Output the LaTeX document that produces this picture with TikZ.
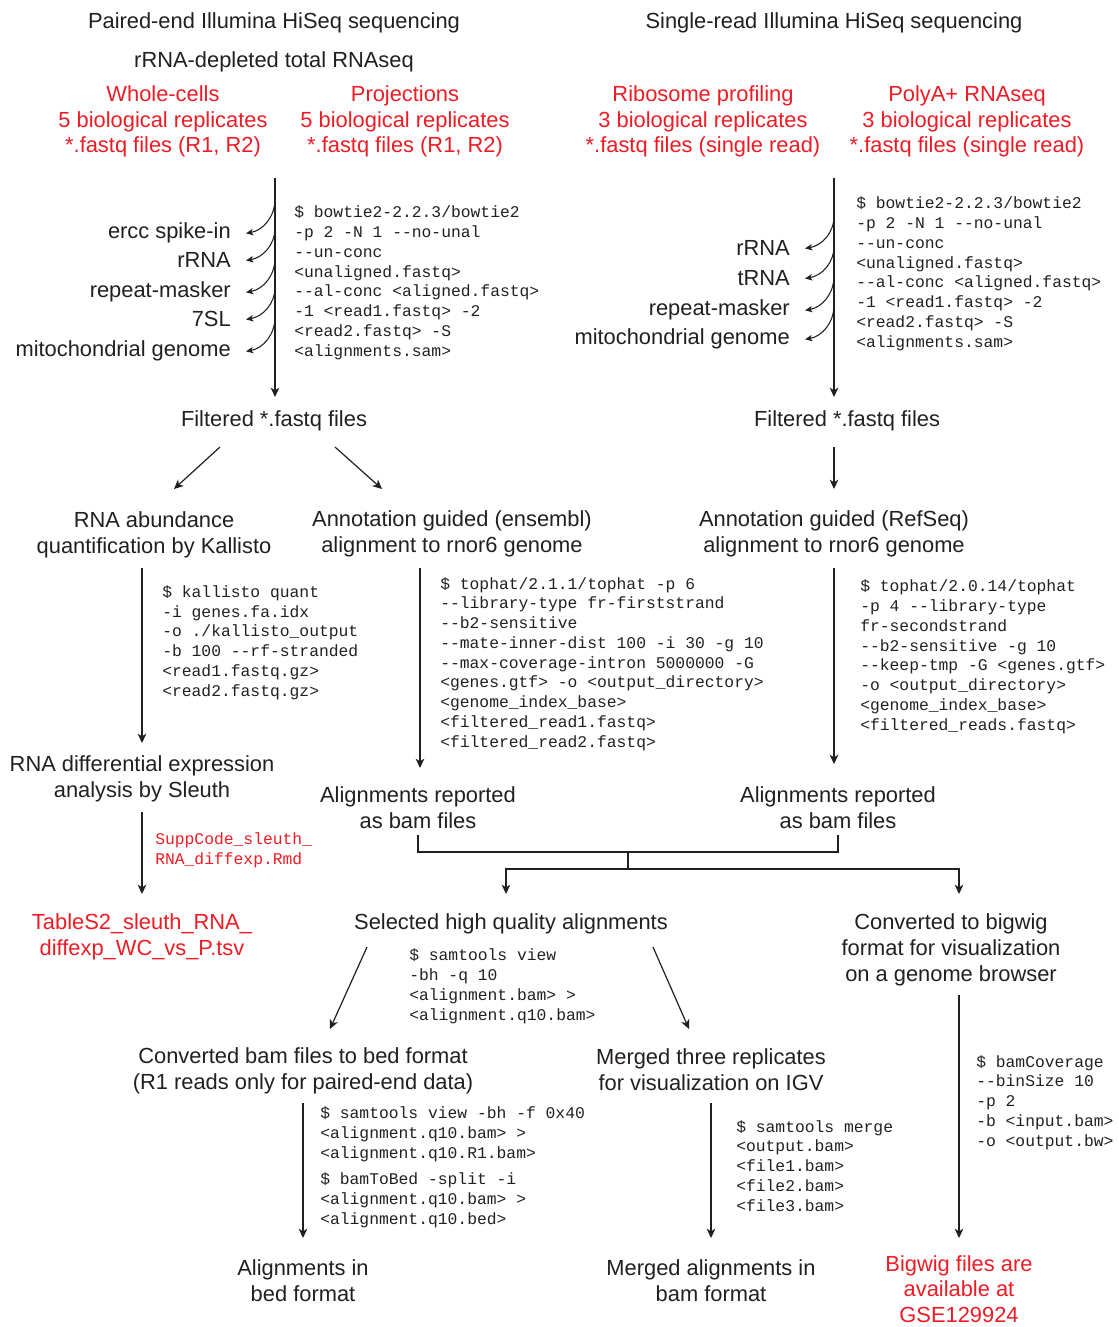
\documentclass[tikz,border=0pt]{standalone}
\usepackage{fontspec}
\setmainfont{Liberation Sans}
\setmonofont{Liberation Mono}
\usetikzlibrary{arrows.meta,calc}
\definecolor{ink}{RGB}{35,31,32}
\definecolor{redt}{RGB}{237,28,36}
\tikzset{
  txt/.style={font=\fontsize{16.4}{19.5}\selectfont, text=ink, inner sep=0pt, align=center, anchor=base},
  redtxt/.style={txt, text=redt},
  lbl/.style={font=\fontsize{16.4}{19.5}\selectfont, text=ink, inner sep=0pt, anchor=base east},
  code/.style={font=\fontsize{12.25}{14.8}\ttfamily, text=ink, inner sep=0pt, align=left, anchor=base west},
  redcode/.style={code, text=redt},
  arr/.style={draw=ink, line width=0.9pt, -{Stealth[length=7pt,width=6.5pt,inset=2pt]}},
  carr/.style={draw=ink, line width=0.8pt, -{Stealth[length=5.5pt,width=4.8pt,inset=1.5pt]}},
  ln/.style={draw=ink, line width=0.9pt},
}
\begin{document}
\begin{tikzpicture}[x=0.75pt,y=-0.75pt]
\useasboundingbox (0,0) rectangle (1118,1327);
% (multi-line nodes are placed by the baseline of their last line)
\begin{scope}[yshift=-1.5pt]
% ---------- headers
\node[txt] (hdrL) at (274,27) {Paired-end Illumina HiSeq sequencing};
\node[txt] (totL) at (274,66) {rRNA-depleted total RNAseq};
\node[redtxt] (wc) at (163,151) {Whole-cells\\5 biological replicates\\*.fastq files (R1, R2)};
\node[redtxt] (proj) at (405,151) {Projections\\5 biological replicates\\*.fastq files (R1, R2)};
\node[txt] (hdrR) at (834,27) {Single-read Illumina HiSeq sequencing};
\node[redtxt] (ribo) at (703,151) {Ribosome profiling\\3 biological replicates\\*.fastq files (single read)};
\node[redtxt] (polya) at (967,151) {PolyA+ RNAseq\\3 biological replicates\\*.fastq files (single read)};
% ---------- left filtering
\node[lbl] (ercc) at (231,236) {ercc spike-in};
\node[lbl] (rrnaL) at (231,265) {rRNA};
\node[lbl] (repL) at (231,295) {repeat-masker};
\node[lbl] (sl) at (231,324) {7SL};
\node[lbl] (mitoL) at (231,354) {mitochondrial genome};
\node[code] (bowL) at (294,354) {\$ bowtie2-2.2.3/bowtie2\\-p 2 -N 1 --no-unal\\--un-conc\\<unaligned.fastq>\\--al-conc <aligned.fastq>\\-1 <read1.fastq> -2\\<read2.fastq> -S\\<alignments.sam>};
\node[txt] (filtL) at (274,424) {Filtered *.fastq files};
% ---------- right filtering
\node[lbl] (rrnaR) at (790,253) {rRNA};
\node[lbl] (trna) at (790,283) {tRNA};
\node[lbl] (repR) at (790,313) {repeat-masker};
\node[lbl] (mitoR) at (790,342) {mitochondrial genome};
\node[code] (bowR) at (856,345) {\$ bowtie2-2.2.3/bowtie2\\-p 2 -N 1 --no-unal\\--un-conc\\<unaligned.fastq>\\--al-conc <aligned.fastq>\\-1 <read1.fastq> -2\\<read2.fastq> -S\\<alignments.sam>};
\node[txt] (filtR) at (847,424) {Filtered *.fastq files};
% ---------- second level
\node[txt] (kal) at (154,551) {RNA abundance\\quantification by Kallisto};
\node[txt] (ens) at (452,550) {Annotation guided (ensembl)\\alignment to rnor6 genome};
\node[txt] (refs) at (834,550) {Annotation guided (RefSeq)\\alignment to rnor6 genome};
\node[code] (kalc) at (162,694) {\$ kallisto quant\\-i genes.fa.idx\\-o ./kallisto\_output\\-b 100 --rf-stranded\\<read1.fastq.gz>\\<read2.fastq.gz>};
\node[code] (th1) at (440,745) {\$ tophat/2.1.1/tophat -p 6\\--library-type fr-firststrand\\--b2-sensitive\\--mate-inner-dist 100 -i 30 -g 10\\--max-coverage-intron 5000000 -G\\<genes.gtf> -o <output\_directory>\\<genome\_index\_base>\\<filtered\_read1.fastq>\\<filtered\_read2.fastq>};
\node[code] (th2) at (860,728) {\$ tophat/2.0.14/tophat\\-p 4 --library-type\\fr-secondstrand\\--b2-sensitive -g 10\\--keep-tmp -G <genes.gtf>\\-o <output\_directory>\\<genome\_index\_base>\\<filtered\_reads.fastq>};
% ---------- third level
\node[txt] (sle) at (142,795) {RNA differential expression\\analysis by Sleuth};
\node[txt] (alL) at (418,826) {Alignments reported\\as bam files};
\node[txt] (alR) at (838,826) {Alignments reported\\as bam files};
\node[redcode] (rmd) at (155,862) {SuppCode\_sleuth\_\\RNA\_diffexp.Rmd};
\node[redtxt] (tab) at (142,953) {TableS2\_sleuth\_RNA\_\\diffexp\_WC\_vs\_P.tsv};
\node[txt] (sel) at (511,927) {Selected high quality alignments};
\node[txt] (bwc) at (951,979) {Converted to bigwig\\format for visualization\\on a genome browser};
\node[code] (svc) at (409,1018) {\$ samtools view\\-bh -q 10\\<alignment.bam> >\\<alignment.q10.bam>};
% ---------- fourth level
\node[txt] (cbed) at (303,1087) {Converted bam files to bed format\\(R1 reads only for paired-end data)};
\node[txt] (mrg) at (711,1088) {Merged three replicates\\for visualization on IGV};
\node[code] (bcov) at (976,1144) {\$ bamCoverage\\--binSize 10\\-p 2\\-b <input.bam>\\-o <output.bw>};
\node[code] (bedc1) at (320,1156) {\$ samtools view -bh -f 0x40\\<alignment.q10.bam> >\\<alignment.q10.R1.bam>};
\node[code] (bedc2) at (320,1222) {\$ bamToBed -split -i\\<alignment.q10.bam> >\\<alignment.q10.bed>};
\node[code] (mrgc) at (736,1209) {\$ samtools merge\\<output.bam>\\<file1.bam>\\<file2.bam>\\<file3.bam>};
\node[txt] (abed) at (303,1299) {Alignments in\\bed format};
\node[txt] (abam) at (711,1299) {Merged alignments in\\bam format};
\node[redtxt, font=\fontsize{16.4}{19.1}\selectfont] (bwf) at (959,1320) {Bigwig files are\\available at\\GSE129924};
\end{scope}
% ---------- connector end points
\coordinate (lA) at (275,178); \coordinate (lB) at (275,397);
\coordinate (rA) at (834,178); \coordinate (rB) at (834,397);
\coordinate (l1) at (275,199); \coordinate (l2) at (275,228); \coordinate (l3) at (275,258);
\coordinate (l4) at (275,287); \coordinate (l5) at (275,317);
\coordinate (r1) at (834,216); \coordinate (r2) at (834,246); \coordinate (r3) at (834,276);
\coordinate (r4) at (834,305);
\coordinate (dLa) at (220,447); \coordinate (dLb) at (174,489);
\coordinate (dRa) at (335,447); \coordinate (dRb) at (382,489);
\coordinate (fRa) at (834,447); \coordinate (fRb) at (834,489);
\coordinate (kA) at (142,568); \coordinate (kB) at (142,743);
\coordinate (eA) at (420,568); \coordinate (eB) at (420,768);
\coordinate (sA) at (834,568); \coordinate (sB) at (834,764);
\coordinate (slA) at (142,812); \coordinate (slB) at (142,894);
\coordinate (bL) at (418,835); \coordinate (bR) at (838,835);
\coordinate (bM) at (628,852); \coordinate (bJ) at (628,869);
\coordinate (selT) at (506,894); \coordinate (bwT) at (959,894);
\coordinate (q1a) at (367,947); \coordinate (q1b) at (330,1029);
\coordinate (q2a) at (653,947); \coordinate (q2b) at (689,1029);
\coordinate (wA) at (959,995); \coordinate (wB) at (959,1238);
\coordinate (cA) at (303,1103); \coordinate (cB) at (303,1238);
\coordinate (mA) at (711,1103); \coordinate (mB) at (711,1238);
% ---------- connectors
\draw[arr] (lA) -- (lB);
\draw[carr] (l1) to[out=-90,in=10] ($(ercc.east)+(15,1)$);
\draw[carr] (l2) to[out=-90,in=10] ($(rrnaL.east)+(15,1)$);
\draw[carr] (l3) to[out=-90,in=10] ($(repL.east)+(15,1)$);
\draw[carr] (l4) to[out=-90,in=10] ($(sl.east)+(15,1)$);
\draw[carr] (l5) to[out=-90,in=10] ($(mitoL.east)+(15,1)$);
\draw[arr] (rA) -- (rB);
\draw[carr] (r1) to[out=-90,in=10] ($(rrnaR.east)+(15,1)$);
\draw[carr] (r2) to[out=-90,in=10] ($(trna.east)+(15,1)$);
\draw[carr] (r3) to[out=-90,in=10] ($(repR.east)+(15,1)$);
\draw[carr] (r4) to[out=-90,in=10] ($(mitoR.east)+(15,1)$);
\draw[arr] (dLa) -- (dLb);
\draw[arr] (dRa) -- (dRb);
\draw[arr] (fRa) -- (fRb);
\draw[arr] (kA) -- (kB);
\draw[arr] (eA) -- (eB);
\draw[arr] (sA) -- (sB);
\draw[arr] (slA) -- (slB);
\draw[ln] (bL) -- (bL |- bM) -- (bR |- bM) -- (bR);
\draw[ln] (bM) -- (bJ);
\draw[arr] (bJ) -| (selT);
\draw[arr] (bJ) -| (bwT);
\draw[arr] (q1a) -- (q1b);
\draw[arr] (q2a) -- (q2b);
\draw[arr] (wA) -- (wB);
\draw[arr] (cA) -- (cB);
\draw[arr] (mA) -- (mB);
\end{tikzpicture}
\end{document}
